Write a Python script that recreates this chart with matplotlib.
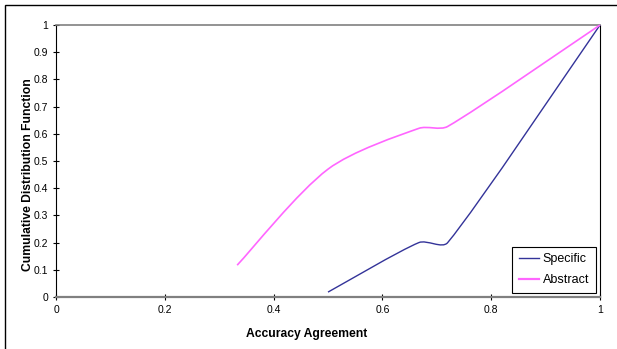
import numpy as np
import matplotlib
matplotlib.use("Agg")
import matplotlib.pyplot as plt
from matplotlib.path import Path
from matplotlib.patches import PathPatch, Rectangle
from matplotlib.lines import Line2D

plt.rcParams['font.family'] = ['Liberation Sans', 'DejaVu Sans']

# data
specific_x = [0.5, 0.667, 0.72, 1.0]
specific_y = [0.018, 0.2, 0.2, 1.0]
abstract_x = [0.333, 0.5, 0.667, 0.72, 1.0]
abstract_y = [0.117, 0.47, 0.62, 0.627, 1.0]

x_ticks = [0, 0.2, 0.4, 0.6, 0.8, 1]
x_labels = ["0", "0.2", "0.4", "0.6", "0.8", "1"]
y_ticks = [0, 0.1, 0.2, 0.3, 0.4, 0.5, 0.6, 0.7, 0.8, 0.9, 1]
y_labels = ["0", "0.1", "0.2", "0.3", "0.4", "0.5", "0.6", "0.7", "0.8", "0.9", "1"]


def smooth_path(xs, ys, sx, sy, cap=0.3):
    # excel-like smoothed line: cubic bezier, tangents limited on short segments
    p = np.column_stack([np.array(xs) * sx, np.array(ys) * sy])
    n = len(p)
    tang = []
    for i in range(n):
        a = p[max(i - 1, 0)]
        b = p[min(i + 1, n - 1)]
        tang.append((b - a) / 6.0)
    verts = [p[0]]
    codes = [Path.MOVETO]
    for i in range(n - 1):
        seg = np.linalg.norm(p[i + 1] - p[i])
        t0 = tang[i]
        t1 = tang[i + 1]
        if np.linalg.norm(t0) > seg * cap:
            t0 = t0 / np.linalg.norm(t0) * seg * cap
        if np.linalg.norm(t1) > seg * cap:
            t1 = t1 / np.linalg.norm(t1) * seg * cap
        verts += [p[i] + t0, p[i + 1] - t1, p[i + 1]]
        codes += [Path.CURVE4] * 3
    verts = np.array(verts) / np.array([sx, sy])
    return Path(verts, codes)


fig = plt.figure(figsize=(6.17, 3.49), dpi=100)
left, right, top, bottom = 56 / 617, 600 / 617, 1 - 25 / 349, 1 - 297 / 349
ax = fig.add_axes([left, bottom, right - left, top - bottom])
ax.set_xlim(0, 1)
ax.set_ylim(0, 1)

sx = (right - left) * 617
sy = (top - bottom) * 349

col_spec = "#333399"
col_abs = "#ff66ff"

ax.add_patch(PathPatch(smooth_path(specific_x, specific_y, sx, sy), fill=False,
                       edgecolor=col_spec, lw=1.0, zorder=3, clip_on=False))
ax.add_patch(PathPatch(smooth_path(abstract_x, abstract_y, sx, sy), fill=False,
                       edgecolor=col_abs, lw=1.2, zorder=3, clip_on=False))

ax.set_xticks(x_ticks)
ax.set_xticklabels(x_labels)
ax.set_yticks(y_ticks)
ax.set_yticklabels(y_labels)
ax.tick_params(direction="inout", length=5, width=0.8, labelsize=7.5, pad=3)

ax.spines["left"].set_color("black")
ax.spines["right"].set_color("black")
ax.spines["top"].set_color("#808080")
ax.spines["bottom"].set_color("#808080")
ax.spines["bottom"].set_linewidth(1.6)
ax.spines["top"].set_linewidth(1.2)

ax.set_xlabel("Accuracy Agreement", fontsize=8.7, fontweight="bold")
ax.set_ylabel("Cumulative Distribution Function", fontsize=8.7, fontweight="bold")
ax.xaxis.set_label_coords(0.461, -0.114)
ax.yaxis.set_label_coords(-0.040, 0.449)

handles = [Line2D([], [], color=col_spec, lw=1.0), Line2D([], [], color=col_abs, lw=1.6)]
leg = ax.legend(handles, ["Specific", "Abstract"], loc="lower right",
                bbox_to_anchor=(596 / 617, 1 - 293 / 349), bbox_transform=fig.transFigure,
                borderaxespad=0, fancybox=False, framealpha=1, edgecolor="black",
                fontsize=9, handlelength=1.6, handletextpad=0.3, labelspacing=0.7,
                borderpad=0.55)
leg.get_frame().set_linewidth(0.8)

# outer chart border (cut off at right and bottom in the original)
fig.patches.append(Rectangle((5 / 617, -0.1), 1.2, 1.1 - 4.5 / 349,
                             transform=fig.transFigure, fill=False, edgecolor="black",
                             lw=1.0, clip_on=False))

fig.savefig("out.png", dpi=100)
